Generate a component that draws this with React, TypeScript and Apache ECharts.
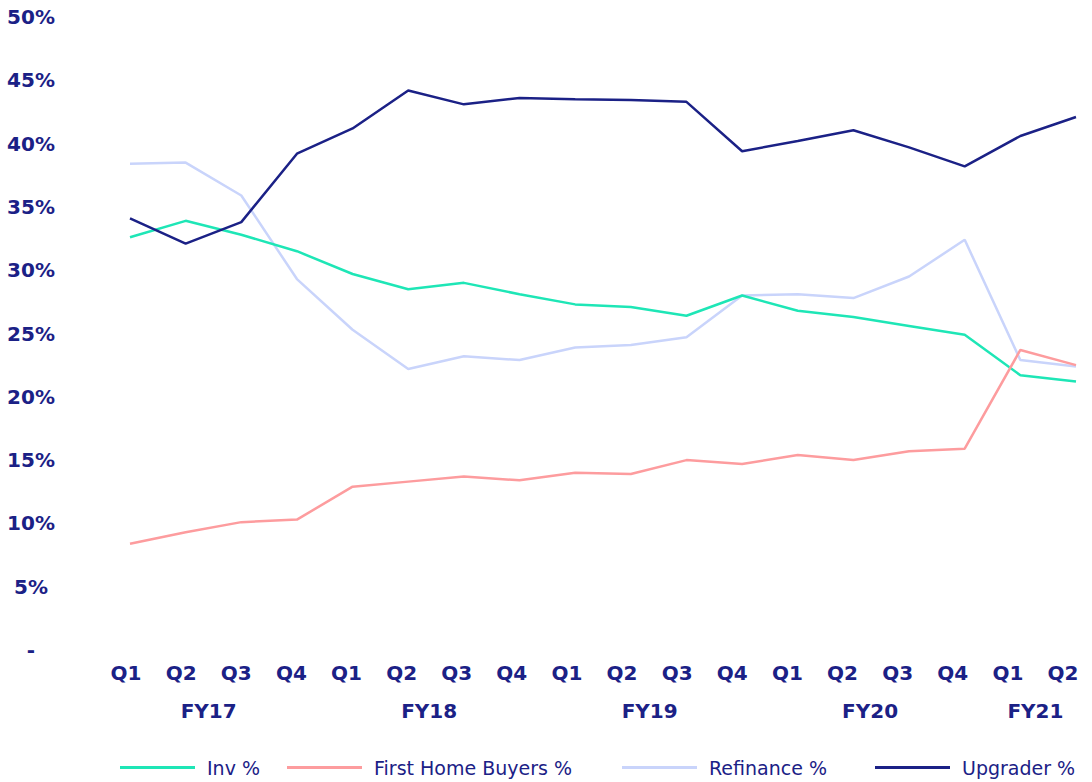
import React, { useEffect, useRef } from "react";
import * as echarts from "echarts";

const quarters = ["Q1", "Q2", "Q3", "Q4", "Q1", "Q2", "Q3", "Q4", "Q1", "Q2", "Q3", "Q4", "Q1", "Q2", "Q3", "Q4", "Q1", "Q2"];
const fiscalYearOfPoint = ["FY17", "FY17", "FY17", "FY17", "FY18", "FY18", "FY18", "FY18", "FY19", "FY19", "FY19", "FY19", "FY20", "FY20", "FY20", "FY20", "FY21", "FY21"];

const invPct = [32.6, 33.9, 32.8, 31.5, 29.7, 28.5, 29.0, 28.1, 27.3, 27.1, 26.4, 28.0, 26.8, 26.3, 25.6, 24.9, 21.7, 21.2];
const firstHomeBuyersPct = [8.4, 9.3, 10.1, 10.3, 12.9, 13.3, 13.7, 13.4, 14.0, 13.9, 15.0, 14.7, 15.4, 15.0, 15.7, 15.9, 23.7, 22.5];
const refinancePct = [38.4, 38.5, 35.9, 29.3, 25.3, 22.2, 23.2, 22.9, 23.9, 24.1, 24.7, 28.0, 28.1, 27.8, 29.5, 32.4, 22.9, 22.4];
const upgraderPct = [34.1, 32.1, 33.8, 39.2, 41.2, 44.2, 43.1, 43.6, 43.5, 43.45, 43.3, 39.4, 40.2, 41.05, 39.7, 38.2, 40.6, 42.1];

const seriesNames = ["Inv %", "First Home Buyers %", "Refinance %", "Upgrader %"];
const seriesColors = ["#1ee6b6", "#fd9c9e", "#c9d4fb", "#1b2186"];
const legendLefts = [120, 287, 622, 875];

const NAVY = "#1b2186";
const FONT = "'DejaVu Sans', sans-serif";

export default function App() {
  const ref = useRef<HTMLDivElement>(null);

  useEffect(() => {
    if (!ref.current) return;
    const chart = echarts.init(ref.current, undefined, { renderer: "svg" });

    const fyCenters: Record<string, string> = {};
    const seen: string[] = [];
    fiscalYearOfPoint.forEach((fy) => {
      if (!seen.includes(fy)) seen.push(fy);
    });
    seen.forEach((fy) => {
      const first = fiscalYearOfPoint.indexOf(fy);
      const last = fiscalYearOfPoint.lastIndexOf(fy);
      fyCenters[String((first + last) / 2)] = fy;
    });

    const allData = [invPct, firstHomeBuyersPct, refinancePct, upgraderPct];

    chart.setOption({
      animation: false,
      backgroundColor: "#ffffff",
      textStyle: { fontFamily: FONT },
      grid: [
        { left: 130, right: 16, top: 17, bottom: 132, containLabel: false },
        { left: 126, right: 29, top: 17, bottom: 132, containLabel: false },
      ],
      legend: seriesNames.map((name, i) => ({
        left: legendLefts[i],
        top: 758,
        itemWidth: 75,
        itemHeight: 3,
        icon: "rect",
        padding: 0,
        textStyle: { color: NAVY, fontSize: 19, fontFamily: FONT, padding: [0, 0, 0, 7] },
        data: [name],
      })),
      xAxis: [
        {
          type: "category",
          gridIndex: 0,
          data: quarters,
          boundaryGap: false,
          show: false,
        },
        {
          type: "category",
          gridIndex: 1,
          data: quarters,
          boundaryGap: false,
          axisLine: { show: false },
          axisTick: { show: false },
          splitLine: { show: false },
          axisLabel: {
            interval: 0,
            margin: 13,
            color: NAVY,
            fontSize: 20,
            fontWeight: 600,
            fontFamily: FONT,
          },
        },
        {
          type: "value",
          gridIndex: 1,
          min: 0,
          max: quarters.length - 1,
          interval: 0.5,
          position: "bottom",
          axisLine: { show: false },
          axisTick: { show: false },
          splitLine: { show: false },
          axisLabel: {
            margin: 51,
            color: NAVY,
            fontSize: 20,
            fontWeight: 600,
            fontFamily: FONT,
            showMinLabel: true,
            showMaxLabel: true,
            formatter: (v: number) => fyCenters[String(v)] || "",
          },
        },
      ],
      yAxis: [
        {
          type: "value",
          gridIndex: 0,
          min: 0,
          max: 50,
          interval: 5,
          axisLine: { show: false },
          axisTick: { show: false },
          splitLine: { show: false },
          axisLabel: {
            align: "center",
            margin: 99,
            color: NAVY,
            fontSize: 20,
            fontWeight: 600,
            fontFamily: FONT,
            formatter: (v: number) => (v === 0 ? "-" : `${v}%`),
          },
        },
        {
          type: "value",
          gridIndex: 1,
          min: 0,
          max: 50,
          show: false,
        },
      ],
      series: seriesNames.map((name, i) => ({
        name,
        type: "line",
        xAxisIndex: 0,
        yAxisIndex: 0,
        data: allData[i],
        symbol: "none",
        showSymbol: false,
        lineStyle: { color: seriesColors[i], width: 2.5 },
        itemStyle: { color: seriesColors[i] },
        z: i === 2 ? 1 : 2 + i,
      })),
    });

    return () => chart.dispose();
  }, []);

  return <div ref={ref} style={{ width: 1092, height: 782, position: "absolute", left: 0, top: 0 }} />;
}
